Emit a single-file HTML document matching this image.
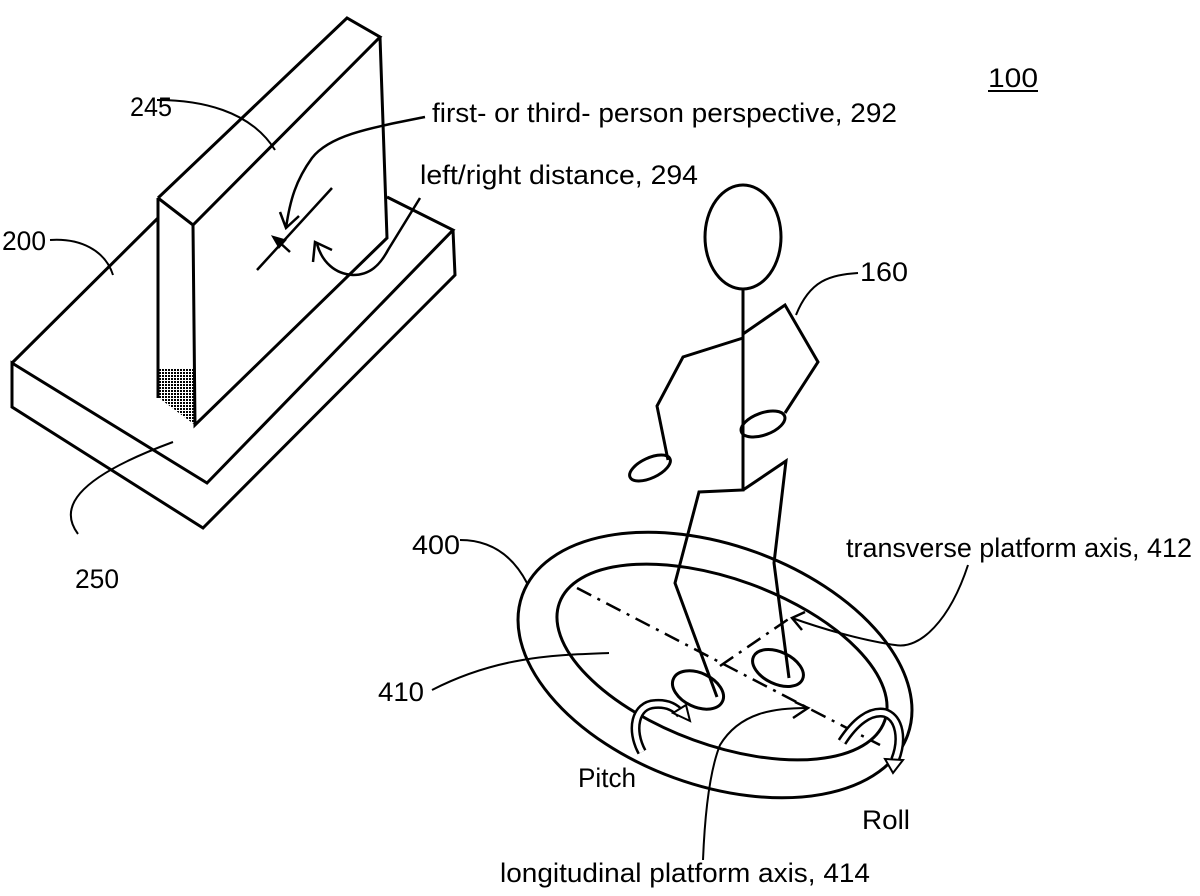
<!DOCTYPE html>
<html><head><meta charset="utf-8"><style>
html,body{margin:0;padding:0;background:#fff;}
svg{display:block;}
text{font-family:"Liberation Sans","DejaVu Sans",sans-serif;font-size:27px;fill:#000;}
</style></head><body>
<svg width="1200" height="896" viewBox="0 0 1200 896" xmlns="http://www.w3.org/2000/svg">
<defs>
<pattern id="hatch" width="3" height="3" patternUnits="userSpaceOnUse">
<rect width="3" height="3" fill="#fff"/><rect width="2" height="2" fill="#000"/>
</pattern>
</defs>
<g fill="none" stroke="#000" stroke-width="3" stroke-linejoin="miter">
<path d="M12,363 L158,218"/>
<path d="M387,197 L453,230 L207,483 L12,363 L12,407 L203,528 L455,275 L453,230"/>
<polygon points="159,368 194,368 195,425 159,398" fill="url(#hatch)" stroke="none"/>
<path d="M158,198 L158,398"/>
<path d="M158,198 L193,225 L380,37 L347,18 L158,198"/>
<path d="M193,225 L195,425 L387,238 L380,37"/>
<path d="M257,270 L332,188" stroke-width="2.5"/>
<path d="M290,252 L278,241" stroke-width="2.5"/>
<path d="M272,236 L286,240 L279,248 Z" fill="#000" stroke-width="1"/>
<path d="M425,117 C370,128 330,135 312,158 C296,180 290,200 286,228" stroke-width="2.5"/>
<path d="M280,212 L286,228 L299,216" stroke-width="2.5"/>
<path d="M420,198 L388,250 C380,265 370,275 353,275 C335,274 322,262 317,244" stroke-width="2.5"/>
<path d="M313,262 L315,242 L332,250" stroke-width="2.5"/>
<path d="M157,100 C200,100 250,110 275,150" stroke-width="2"/>
<path d="M50,240 C80,238 105,250 113,275" stroke-width="2"/>
<path d="M78,534 C60,510 70,480 173,442" stroke-width="2"/>
<ellipse cx="743" cy="237" rx="38" ry="52"/>
<path d="M743,289 L743,490 L699,492 L675,583 L717,697"/>
<path d="M743,490 L786,461 L774,563 L789,678"/>
<path d="M743,338 L683,357 L657,406 L668,460"/>
<path d="M743,334 L785,305 L818,362 L785,413"/>
<ellipse cx="650" cy="468" rx="22" ry="10" transform="rotate(-25 650 468)"/>
<ellipse cx="763" cy="424" rx="23" ry="11" transform="rotate(-20 763 424)"/>
<path d="M796,315 C810,280 830,275 858,273" stroke-width="2"/>
<ellipse cx="715" cy="665" rx="205" ry="120" transform="rotate(20 715 665)"/>
<ellipse cx="722" cy="662" rx="173" ry="83" transform="rotate(20 722 662)"/>
<ellipse cx="698" cy="690" rx="27" ry="17" transform="rotate(25 698 690)"/>
<ellipse cx="778" cy="668" rx="27" ry="16" transform="rotate(25 778 668)"/>
<path d="M577,588 L808,708 L880,745" stroke-dasharray="16,7,3,7" stroke-width="2.5"/>
<path d="M720,666 L790,618" stroke-dasharray="16,7,3,7" stroke-width="2.5"/>
<path d="M795,702 L808,708 L793,718" stroke-width="2.5"/>
<path d="M460,540 C495,540 515,560 527,583" stroke-width="2"/>
<path d="M432,690 C500,655 560,655 609,653" stroke-width="2"/>
<path d="M968,565 C950,620 920,650 895,645 C860,640 820,628 792,618" stroke-width="2"/>
<path d="M805,612 L792,618 L802,630" stroke-width="2.5"/>
<path d="M703,860 C705,810 710,770 720,745 C740,712 775,708 807,708" stroke-width="2"/>
<path d="M642,752 C630,730 635,705 655,704 C668,703 676,708 681,714" stroke-width="10"/>
<path d="M642,752 C630,730 635,705 655,704 C668,703 676,708 681,714" stroke="#fff" stroke-width="5"/>
<path d="M673,713 L690,721 L686,705 Z" fill="#fff" stroke-width="2"/>
<path d="M842,742 C855,722 870,710 885,713 C900,718 903,740 895,760" stroke-width="10"/>
<path d="M842,742 C855,722 870,710 885,713 C900,718 903,740 895,760" stroke="#fff" stroke-width="5"/>
<path d="M885,759 L893,773 L903,760 Z" fill="#fff" stroke-width="2"/>
</g>
<text x="130" y="116" textLength="42" lengthAdjust="spacingAndGlyphs">245</text>
<text x="2" y="250" textLength="44" lengthAdjust="spacingAndGlyphs">200</text>
<text x="75" y="588" textLength="44" lengthAdjust="spacingAndGlyphs">250</text>
<text x="432" y="122" textLength="465" lengthAdjust="spacingAndGlyphs">first- or third- person perspective, 292</text>
<text x="420" y="184" textLength="278" lengthAdjust="spacingAndGlyphs">left/right distance, 294</text>
<text x="988" y="87" textLength="50" lengthAdjust="spacingAndGlyphs">100</text>
<path d="M988,91 L1038,91" stroke="#000" stroke-width="2"/>
<text x="860" y="281" textLength="48" lengthAdjust="spacingAndGlyphs">160</text>
<text x="412" y="554" textLength="48" lengthAdjust="spacingAndGlyphs">400</text>
<text x="378" y="701" textLength="46" lengthAdjust="spacingAndGlyphs">410</text>
<text x="846" y="557" textLength="346" lengthAdjust="spacingAndGlyphs">transverse platform axis, 412</text>
<text x="578" y="787" textLength="58" lengthAdjust="spacingAndGlyphs">Pitch</text>
<text x="862" y="829" textLength="48" lengthAdjust="spacingAndGlyphs">Roll</text>
<text x="500" y="882" textLength="370" lengthAdjust="spacingAndGlyphs">longitudinal platform axis, 414</text>
</svg>
</body></html>
